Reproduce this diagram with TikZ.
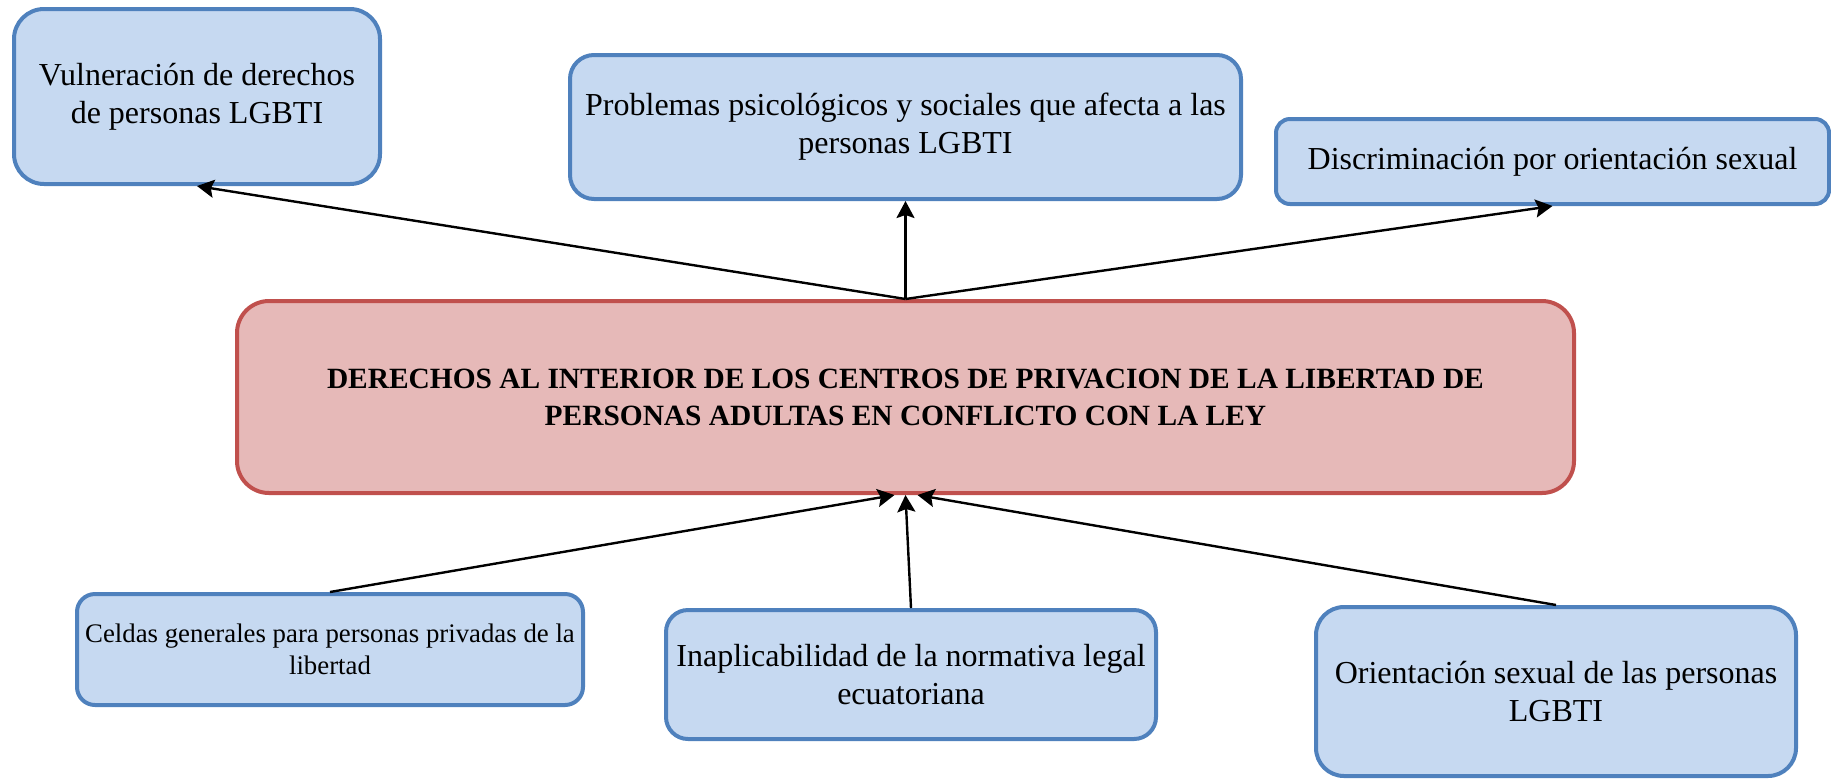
\documentclass[tikz,border=0pt]{standalone}
\usepackage{fontspec}
\setmainfont{Liberation Serif}
\usetikzlibrary{arrows.meta}

\definecolor{leafline}{HTML}{4F81BD}
\definecolor{leaffill}{HTML}{C6D9F1}
\definecolor{coreline}{HTML}{C0504D}
\definecolor{corefill}{HTML}{E6B9B8}

\begin{document}
\begin{tikzpicture}[x=0.5pt,y=-0.5pt,
    leaf/.style={rectangle, draw=leafline, fill=leaffill, line width=2pt,
      inner sep=0pt, align=center, font=\fontsize{16}{19}\selectfont},
    core/.style={rectangle, draw=coreline, fill=corefill, line width=2pt,
      rounded corners=16pt, inner sep=0pt, align=center,
      font=\bfseries\fontsize{14.7}{18.5}\selectfont},
    >={Stealth[length=8.5pt,width=9pt,inset=1.5pt]}, line width=1.2pt]
    \useasboundingbox (0,0) rectangle (1831,778);
    % effects
    \node[leaf, minimum width=183pt, minimum height=87.5pt, rounded corners=15pt] (vuln) at (197,96.5) {Vulneración de derechos\\de personas LGBTI};
    \node[leaf, minimum width=335.5pt, minimum height=72pt, rounded corners=12pt] (psico) at (905.5,127) {Problemas psicológicos y sociales que afecta a las\\personas LGBTI};
    \node[leaf, minimum width=276.5pt, minimum height=42.5pt, rounded corners=7pt] (discr) at (1552.5,161.5) {Discriminación por orientación sexual};
    % problem
    \node[core, minimum width=668.5pt, minimum height=96pt] (derechos) at (905.5,397) {DERECHOS AL INTERIOR DE LOS CENTROS DE PRIVACION DE LA LIBERTAD DE\\PERSONAS ADULTAS EN CONFLICTO CON LA LEY};
    % causes
    \node[leaf, minimum width=253pt, minimum height=55.5pt, rounded corners=9pt, font=\fontsize{13.4}{16}\selectfont] (celdas) at (330,649.5) {Celdas generales para personas privadas de la\\libertad};
    \node[leaf, minimum width=245pt, minimum height=64.5pt, rounded corners=11pt] (norma) at (911,674.5) {Inaplicabilidad de la normativa legal\\ecuatoriana};
    \node[leaf, minimum width=240pt, minimum height=84.5pt, rounded corners=14pt] (orient) at (1556,691.5) {Orientación sexual de las personas\\LGBTI};
    \draw[->] (derechos.north) -- (vuln.south);
    \draw[->] (derechos.north) -- (psico.south);
    \draw[->] (derechos.north) -- (discr.south);
    \draw[->] (celdas.north) -- ([xshift=-5.5pt]derechos.south);
    \draw[->] (norma.north) -- (derechos.south);
    \draw[->] (orient.north) -- ([xshift=6pt]derechos.south);
\end{tikzpicture}
\end{document}
